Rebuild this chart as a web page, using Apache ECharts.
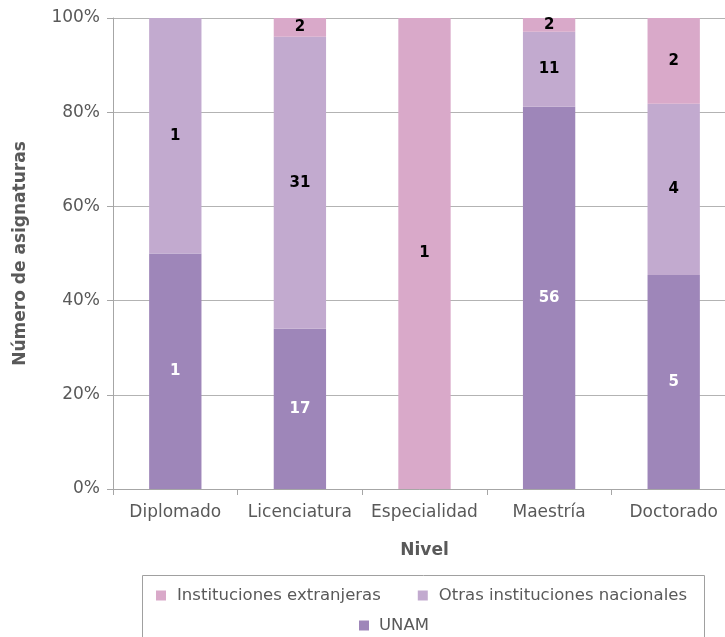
<!DOCTYPE html>
<html>
<head>
<meta charset="utf-8">
<script src="https://cdn.jsdelivr.net/npm/echarts@6/dist/echarts.min.js"></script>
<style>html,body{margin:0;padding:0;background:#fff;overflow:hidden}#c{width:725px;height:637px}</style>
</head>
<body>
<div id="c"></div>
<script>
var categories = ['Diplomado', 'Licenciatura', 'Especialidad', 'Maestría', 'Doctorado'];
var unam = [1, 17, 0, 56, 5];
var otras = [1, 31, 0, 11, 4];
var ext = [0, 2, 1, 2, 2];
var yTicks = [0, 20, 40, 60, 80, 100];

var totals = categories.map(function (c, i) { return unam[i] + otras[i] + ext[i]; });
function pct(arr) {
  return arr.map(function (v, i) { return { value: totals[i] ? v / totals[i] * 100 : 0, count: v }; });
}
var FONT = 'DejaVu Sans';
function lbl(color) {
  return {
    show: true, position: 'inside', color: color, fontFamily: FONT, fontWeight: 'bold', fontSize: 15,
    formatter: function (p) { return p.data.count ? String(p.data.count) : ''; }
  };
}
var chart = echarts.init(document.getElementById('c'));
chart.setOption({
  animation: false,
  textStyle: { fontFamily: FONT },
  grid: { left: 113, width: 623, top: 18, bottom: 148, containLabel: false, outerBoundsMode: 'none' },
  xAxis: {
    type: 'category', data: categories,
    name: 'Nivel', nameLocation: 'middle', nameGap: 53,
    nameTextStyle: { fontFamily: FONT, fontWeight: 'bold', fontSize: 17, color: '#595959' },
    axisLine: { lineStyle: { color: '#a6a6a6' } },
    axisTick: { show: true, length: 6, interval: 0, lineStyle: { color: '#a6a6a6' } },
    axisLabel: { interval: 0, color: '#595959', fontFamily: FONT, fontSize: 17, margin: 15 }
  },
  yAxis: {
    type: 'value', min: 0, max: 100, interval: 20,
    name: 'Número de asignaturas', nameLocation: 'middle', nameGap: 84,
    nameTextStyle: { fontFamily: FONT, fontWeight: 'bold', fontSize: 17, color: '#595959' },
    axisLine: { show: true, lineStyle: { color: '#a6a6a6' } },
    axisTick: { show: true, length: 6, lineStyle: { color: '#a6a6a6' } },
    splitLine: { lineStyle: { color: '#b3b3b3' } },
    axisLabel: { color: '#595959', fontFamily: FONT, fontSize: 17, margin: 13,
      formatter: function (v) { return yTicks.indexOf(v) >= 0 ? v + '%' : ''; } }
  },
  legend: [
    { data: ['Instituciones extranjeras', 'Otras instituciones nacionales'], left: 151, top: 582,
      itemWidth: 10, itemHeight: 10, itemGap: 37, icon: 'rect',
      textStyle: { color: '#595959', fontFamily: FONT, fontSize: 16.5, padding: [0, 0, 0, 6] } },
    { data: ['UNAM'], left: 354, top: 612,
      itemWidth: 10, itemHeight: 10, icon: 'rect',
      textStyle: { color: '#595959', fontFamily: FONT, fontSize: 16.5, padding: [0, 0, 0, 5] } }
  ],
  graphic: [{ type: 'rect', shape: { x: 142.5, y: 575.5, width: 562, height: 80 },
    style: { fill: 'none', stroke: '#a0a0a0', lineWidth: 1 }, z: -1 }],
  series: [
    { name: 'UNAM', type: 'bar', stack: 't', barWidth: '42%', data: pct(unam),
      itemStyle: { color: '#9e86b9' }, label: lbl('#ffffff') },
    { name: 'Otras instituciones nacionales', type: 'bar', stack: 't', data: pct(otras),
      itemStyle: { color: '#c2aacf' }, label: lbl('#000000') },
    { name: 'Instituciones extranjeras', type: 'bar', stack: 't', data: pct(ext),
      itemStyle: { color: '#d9a9c9' }, label: lbl('#000000') }
  ]
});
</script>
</body>
</html>
